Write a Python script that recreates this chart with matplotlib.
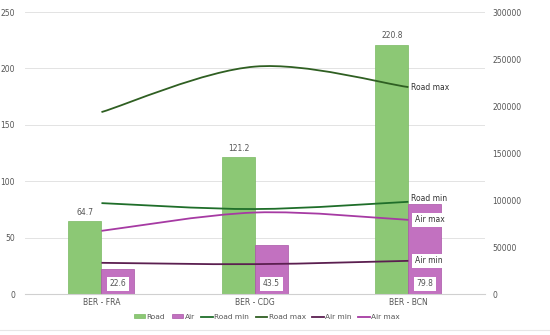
import numpy as np
import matplotlib
matplotlib.use("Agg")
import matplotlib.pyplot as plt
from matplotlib.path import Path
from matplotlib.patches import PathPatch

# ---- data ----
routes = ["BER - FRA", "BER - CDG", "BER - BCN"]
road = [64.7, 121.2, 220.8]
air = [22.6, 43.5, 79.8]
road_min = [96800, 90500, 98200]
road_max = [193600, 242000, 220200]
air_min = [33300, 31900, 35400]
air_max = [67300, 86800, 79000]

c_road = "#8cc875"
c_air = "#c271c0"
c_road_min = "#1f6e2a"
c_road_max = "#2f5f22"
c_air_min = "#5b1f50"
c_air_max = "#a63aa3"
txt = "#555555"


def smooth_path(xs, ys, t=1 / 6):
    # catmull-rom style bezier through the points
    xs = list(xs)
    ys = list(ys)
    px = [xs[0]] + xs + [xs[-1]]
    py = [ys[0]] + ys + [ys[-1]]
    verts = [(xs[0], ys[0])]
    codes = [Path.MOVETO]
    for i in range(1, len(xs)):
        c1 = (px[i] + (px[i + 1] - px[i - 1]) * t, py[i] + (py[i + 1] - py[i - 1]) * t)
        c2 = (px[i + 1] - (px[i + 2] - px[i]) * t, py[i + 1] - (py[i + 2] - py[i]) * t)
        verts += [c1, c2, (xs[i], ys[i])]
        codes += [Path.CURVE4] * 3
    return Path(verts, codes)


fig = plt.figure(figsize=(5.5, 3.35), dpi=100)
ax = fig.add_axes([0.045, 0.122, 0.837, 0.842])
ax2 = ax.twinx()

x = np.arange(len(routes))
w = 0.215
b1 = ax.bar(x - w / 2, road, w, color=c_road, edgecolor="#7ab862", linewidth=0.5, zorder=2)
b2 = ax.bar(x + w / 2, air, w, color=c_air, edgecolor="#a955a6", linewidth=0.5, zorder=2)

for xi, v in zip(x, road):
    ax.text(xi - w / 2, v + 4, f"{v}", ha="center", va="bottom", fontsize=5.5, color=txt)
for xi, v in zip(x, air):
    ax.text(xi + w / 2, 9, f"{v}", ha="center", va="center", fontsize=5.5, color=txt,
            bbox=dict(boxstyle="square,pad=0.35", fc="white", ec="none"))

ax.set_ylim(0, 250)
ax.set_yticks(range(0, 251, 50))
ax.set_xlim(-0.5, 2.5)
ax.set_xticks(x)
ax.set_xticklabels(routes)
ax.grid(axis="y", color="#e3e3e3", linewidth=0.7, zorder=0)
ax.set_axisbelow(True)

ax2.set_ylim(0, 300000)
ax2.set_yticks(range(0, 300001, 50000))

series = [
    (road_min, c_road_min, "Road min", False),
    (road_max, c_road_max, "Road max", False),
    (air_min, c_air_min, "Air min", True),
    (air_max, c_air_max, "Air max", True),
]
handles = [b1, b2]
for vals, col, name, boxed in series:
    p = PathPatch(smooth_path(x, vals), fc="none", ec=col, lw=1.3, zorder=3)
    ax2.add_patch(p)
    (h,) = ax2.plot([], [], color=col, lw=1.3, label=name)
    handles.append(h)
    kw = dict(fontsize=5.5, color="#333333", ha="left", va="center")
    if boxed:
        kw["bbox"] = dict(boxstyle="square,pad=0.35", fc="white", ec="none")
        ax2.text(x[-1] + 0.04, vals[-1], name, **kw)
    else:
        ax2.text(x[-1] + 0.02, vals[-1] + (3500 if name == "Road min" else 0), name, **kw)

for a in (ax, ax2):
    for s in a.spines.values():
        s.set_visible(False)
    a.tick_params(length=0, labelsize=5.5, labelcolor=txt)
ax.spines["bottom"].set_visible(True)
ax.spines["bottom"].set_color("#d0d0d0")
ax.tick_params(axis="y", pad=7)
ax2.tick_params(axis="y", pad=5)
ax.tick_params(axis="x", pad=3)

fig.legend(handles, ["Road", "Air", "Road min", "Road max", "Air min", "Air max"],
           loc="lower center", bbox_to_anchor=(0.485, 0.025), ncol=6, frameon=False,
           fontsize=5.3, handlelength=1.6, handleheight=0.5, handletextpad=0.15,
           columnspacing=0.9, labelcolor=txt)
fig.add_artist(plt.Line2D([0.0, 1.0], [0.015, 0.015], color="#e6e6e6", lw=0.8))

fig.savefig("out.png", dpi=100, facecolor="white")
